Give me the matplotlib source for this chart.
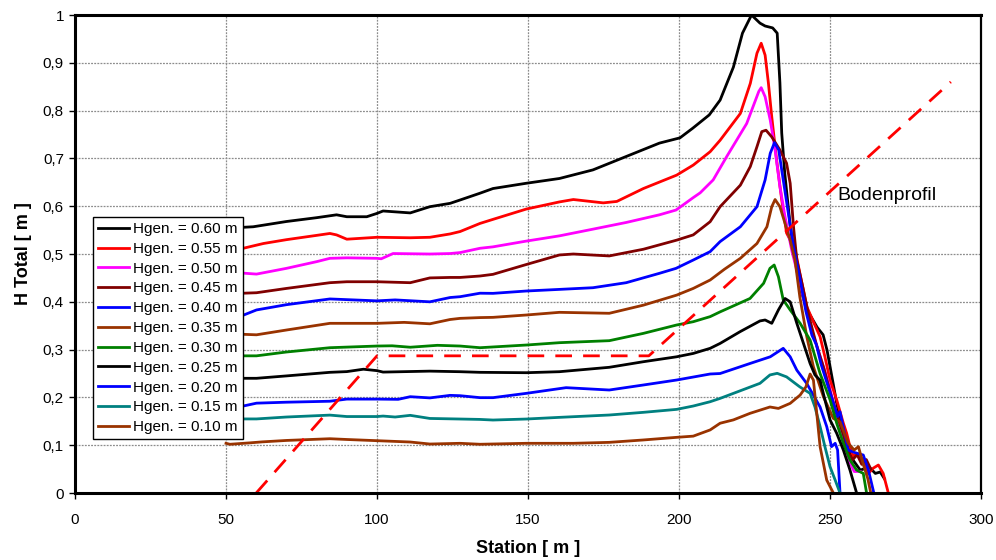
import matplotlib
matplotlib.use("Agg")
import matplotlib.pyplot as plt

plt.rcParams['font.family'] = ['Liberation Sans', 'DejaVu Sans']

# Hgen. = 0.60 m
st_060 = [50, 59, 70, 80, 86.6, 90, 96.6, 100, 102, 111, 117.5, 124.2, 127.5, 134, 138.4, 149.4, 160.4, 171.5,
          182.5, 193.5, 200.3, 204.5, 210, 213.6, 218, 221, 224, 226.8, 228.5, 231, 232.5, 233.4, 234, 235,
          236.8, 238.4, 240, 242.4, 245.7, 247.7, 249, 251, 253, 255.6, 257.6, 260, 263, 265, 266.6, 268]
h_060 = [0.554, 0.557, 0.568, 0.576, 0.582, 0.578, 0.578, 0.585, 0.590, 0.586, 0.599, 0.606, 0.613, 0.627, 0.637,
         0.648, 0.658, 0.676, 0.704, 0.732, 0.743, 0.763, 0.791, 0.822, 0.891, 0.962, 1.0, 0.983, 0.977, 0.973,
         0.962, 0.858, 0.753, 0.669, 0.56, 0.49, 0.431, 0.383, 0.347, 0.331, 0.299, 0.230, 0.159, 0.111, 0.069,
         0.048, 0.054, 0.041, 0.044, 0.03]

# Hgen. = 0.55 m
st_055 = [50, 55.7, 62.4, 70, 80, 84.4, 86.6, 90, 100, 111, 117.5, 124.2, 127.5, 134.1, 138.4, 149.4, 160.4,
          165, 174.9, 179.4, 188.2, 199.2, 204.7, 210.3, 213.6, 220.3, 223.6, 225.8, 227.2, 228.5, 229.6, 230.7,
          232.3, 234, 235.6, 238.4, 240, 242.3, 244.5, 246.7, 248.3, 250, 252.2, 254.4, 255.5, 256.6, 257.7,
          258.8, 261, 262.7, 264.3, 266, 267.6, 269.3]
h_055 = [0.505, 0.512, 0.522, 0.530, 0.539, 0.543, 0.540, 0.531, 0.535, 0.534, 0.535, 0.542, 0.547, 0.564, 0.5725,
         0.594, 0.609, 0.614, 0.607, 0.610, 0.637, 0.665, 0.686, 0.714, 0.738, 0.794, 0.857, 0.92, 0.941, 0.916,
         0.857, 0.787, 0.697, 0.613, 0.544, 0.51, 0.46, 0.39, 0.358, 0.327, 0.285, 0.236, 0.195, 0.146, 0.125,
         0.097, 0.076, 0.083, 0.069, 0.041, 0.052, 0.0586, 0.041, 0.0]

# Hgen. = 0.50 m
st_050 = [50, 55.7, 60.1, 70, 80, 84.4, 90, 100, 101.4, 105.3, 117.5, 124.2, 127.5, 134.1, 138.4, 149.4, 160.4,
          171.5, 182.5, 193.5, 199, 204.7, 207, 211.3, 215.8, 222.4, 226.4, 227.2, 228.5, 230.2, 231.8, 233.4,
          235.1, 237.3, 240, 243, 246, 249, 252, 254.5, 256.5, 258, 260]
h_050 = [0.460, 0.460, 0.458, 0.470, 0.484, 0.491, 0.492, 0.491, 0.490, 0.501, 0.500, 0.501, 0.503, 0.512, 0.515,
         0.527, 0.538, 0.552, 0.566, 0.582, 0.592, 0.618, 0.628, 0.655, 0.704, 0.773, 0.840, 0.848, 0.829, 0.780,
         0.718, 0.641, 0.578, 0.508, 0.44, 0.36, 0.30, 0.24, 0.17, 0.11, 0.065, 0.045, 0.045]

# Hgen. = 0.45 m
st_045 = [50, 55.7, 60.1, 70, 84.4, 90, 100, 111, 117.5, 124.2, 127.5, 134.1, 138.4, 149.4, 160.4, 165, 176.9,
          188.2, 199.2, 204.7, 210.3, 213.6, 220.3, 223.6, 225.8, 227.4, 228.8, 230.7, 233.4, 235.6, 236.8, 237.9,
          239, 241, 243, 245.5, 248, 250.5, 252.5, 254.5, 256, 257.5, 259, 260.5, 262, 263.5]
h_045 = [0.419, 0.418, 0.419, 0.428, 0.440, 0.442, 0.442, 0.440, 0.450, 0.451, 0.451, 0.454, 0.4575, 0.478, 0.498,
         0.500, 0.496, 0.510, 0.529, 0.540, 0.5676, 0.599, 0.644, 0.683, 0.7245, 0.756, 0.759, 0.745, 0.7176,
         0.69, 0.648, 0.557, 0.487, 0.43, 0.37, 0.31, 0.26, 0.20, 0.16, 0.12, 0.085, 0.07, 0.08, 0.06, 0.07, 0.05]

# Hgen. = 0.40 m
st_040 = [50, 55.7, 60.1, 70, 84.4, 100, 106, 117.5, 124.2, 127.5, 134.1, 138.4, 149.4, 160.4, 171.5, 182.5,
          193.5, 199, 204.7, 210.3, 213.6, 220.3, 225.8, 228.5, 230.2, 231.6, 233, 234.5, 236.2, 237.9, 240, 242,
          244, 245.5, 247, 249, 251, 252.5, 253.3, 254.3, 256, 258, 261, 262.7, 264.5]
h_040 = [0.372, 0.372, 0.383, 0.394, 0.406, 0.402, 0.404, 0.400, 0.409, 0.4107, 0.418, 0.4177, 0.4226, 0.426,
         0.4295, 0.440, 0.4596, 0.470, 0.4874, 0.505, 0.526, 0.557, 0.599, 0.655, 0.7107, 0.733, 0.7176, 0.655,
         0.585, 0.515, 0.45, 0.38, 0.33, 0.31, 0.27, 0.23, 0.19, 0.16, 0.17, 0.14, 0.09, 0.085, 0.0795, 0.048, 0.0]

# Hgen. = 0.35 m
st_035 = [50, 55.7, 60.1, 70, 84.4, 100, 109, 117.5, 124.2, 127.5, 134.1, 138.4, 149.4, 160.4, 176.9, 188.2,
          199.2, 204.7, 210.3, 215, 220.3, 225.8, 229.1, 230.7, 231.8, 233.4, 235.1, 236.8, 238.4, 240, 242.3,
          244.5, 247.8, 251.1, 253.3, 256, 258, 259.4, 261, 262.5, 263.5]
h_035 = [0.334, 0.332, 0.331, 0.341, 0.355, 0.355, 0.357, 0.354, 0.363, 0.3654, 0.367, 0.3675, 0.3724, 0.378,
         0.376, 0.393, 0.414, 0.428, 0.4456, 0.468, 0.491, 0.522, 0.557, 0.599, 0.614, 0.599, 0.564, 0.529, 0.487,
         0.41, 0.327, 0.264, 0.2015, 0.156, 0.149, 0.104, 0.09, 0.097, 0.06, 0.03, 0.0]

# Hgen. = 0.30 m
st_030 = [50, 55.7, 60.1, 70, 84.4, 100, 105, 111, 120, 127.5, 134.1, 149.4, 160.4, 176.9, 188.2, 199.2, 204.7,
          210.3, 213.6, 223.5, 228, 230.1, 231.5, 232.9, 234.5, 236.8, 240.1, 243.4, 246.7, 250, 252.2, 254.4,
          256.6, 258.8, 261, 262.1]
h_030 = [0.289, 0.287, 0.287, 0.295, 0.304, 0.3075, 0.308, 0.305, 0.309, 0.3075, 0.304, 0.3096, 0.3145, 0.3187,
         0.334, 0.3515, 0.3584, 0.369, 0.379, 0.407, 0.4387, 0.470, 0.477, 0.4525, 0.404, 0.383, 0.355, 0.32,
         0.25, 0.195, 0.146, 0.104, 0.069, 0.048, 0.041, 0.0]

# Hgen. = 0.25 m
st_025 = [50, 55.7, 60.1, 70, 84.4, 90, 95.5, 100, 102, 117.5, 127.5, 134.1, 149.4, 160.4, 176.9, 188.2, 199.2,
          204.7, 210.3, 213.6, 220.2, 226.8, 228.5, 230.7, 232.9, 235.1, 236.8, 239, 241.2, 243.4, 245, 246.7,
          248.3, 250, 252.2, 254.4, 256.6, 258.8]
h_025 = [0.240, 0.240, 0.240, 0.245, 0.2525, 0.254, 0.259, 0.256, 0.253, 0.255, 0.2538, 0.2525, 0.2517, 0.2538,
         0.263, 0.2747, 0.285, 0.292, 0.3027, 0.313, 0.3375, 0.36, 0.362, 0.355, 0.383, 0.407, 0.400, 0.355,
         0.313, 0.271, 0.247, 0.236, 0.195, 0.153, 0.125, 0.09, 0.048, 0.0]

# Hgen. = 0.20 m
st_020 = [50, 55.7, 60.1, 70, 84.4, 90, 100, 107, 111, 117.5, 124.2, 127.5, 134.1, 138.4, 149.4, 162.6, 176.9,
          188.2, 199.2, 210.3, 213.6, 223.5, 230.2, 232.8, 234.5, 236.8, 239, 242.3, 246.7, 248.9, 250.5, 251.7,
          252.5, 253.3]
h_020 = [0.181, 0.182, 0.188, 0.190, 0.192, 0.1965, 0.1965, 0.196, 0.2015, 0.199, 0.2043, 0.2036, 0.1995, 0.1995,
         0.2085, 0.2204, 0.2155, 0.226, 0.2364, 0.249, 0.250, 0.271, 0.285, 0.2957, 0.3027, 0.285, 0.257, 0.229,
         0.18, 0.139, 0.097, 0.104, 0.09, 0.0]

# Hgen. = 0.15 m
st_015 = [50, 55.7, 60.1, 70, 84.4, 90, 100, 102, 106, 111, 117.5, 127.5, 134, 138.4, 149.4, 160.4, 176.9,
          188.2, 199.2, 204.7, 210.3, 213.6, 226.8, 230.1, 232.5, 235.6, 240, 243.4, 245, 246.7, 248.3, 250,
          251.7, 253.3]
h_015 = [0.153, 0.155, 0.155, 0.159, 0.163, 0.160, 0.160, 0.161, 0.159, 0.1625, 0.156, 0.1548, 0.154, 0.1527,
         0.1548, 0.1583, 0.1632, 0.1688, 0.175, 0.182, 0.191, 0.198, 0.2295, 0.247, 0.2504, 0.243, 0.222, 0.2085,
         0.18, 0.139, 0.097, 0.055, 0.027, 0.0]

# Hgen. = 0.10 m
st_010 = [50, 51.3, 58, 62, 70, 84.4, 90, 100, 111, 117.5, 127.5, 134.1, 149.4, 165, 176.9, 188.2, 199.2, 204.7,
          210.3, 213.6, 218, 223.5, 230.1, 232.9, 236.8, 240.1, 242, 243.4, 244.5, 245.6, 246.7, 248.9, 251.1]
h_010 = [0.104, 0.102, 0.105, 0.107, 0.110, 0.1136, 0.112, 0.1095, 0.1067, 0.1025, 0.104, 0.102, 0.104, 0.104,
         0.106, 0.111, 0.1165, 0.119, 0.132, 0.146, 0.153, 0.1667, 0.18, 0.177, 0.1876, 0.205, 0.222, 0.249,
         0.236, 0.1667, 0.097, 0.027, 0.0]

# Bodenprofil
boden_x = [60, 100, 190, 290]
boden_y = [0, 0.287, 0.287, 0.86]

labels = ["Hgen. = 0.60 m", "Hgen. = 0.55 m", "Hgen. = 0.50 m", "Hgen. = 0.45 m", "Hgen. = 0.40 m",
          "Hgen. = 0.35 m", "Hgen. = 0.30 m", "Hgen. = 0.25 m", "Hgen. = 0.20 m", "Hgen. = 0.15 m",
          "Hgen. = 0.10 m"]
colors = ["#000000", "#FF0000", "#FF00FF", "#800000", "#0000FF", "#993300", "#008000", "#000000", "#0000FF",
          "#008080", "#993300"]
stations = [st_060, st_055, st_050, st_045, st_040, st_035, st_030, st_025, st_020, st_015, st_010]
heights = [h_060, h_055, h_050, h_045, h_040, h_035, h_030, h_025, h_020, h_015, h_010]

x_ticks = [0, 50, 100, 150, 200, 250, 300]
y_ticks = [0, 0.1, 0.2, 0.3, 0.4, 0.5, 0.6, 0.7, 0.8, 0.9, 1.0]
y_tick_labels = ["0", "0,1", "0,2", "0,3", "0,4", "0,5", "0,6", "0,7", "0,8", "0,9", "1"]

fig = plt.figure(figsize=(9.96, 5.6), dpi=100)
ax = fig.add_axes([0.0753, 0.1196, 0.9097, 0.8536])

for st, h, c, lab in zip(stations, heights, colors, labels):
    ax.plot(st, h, color=c, lw=2, label=lab, solid_joinstyle='round')

ax.plot(boden_x, boden_y, color="#FF0000", lw=2, linestyle=(0, (6, 4)))
ax.text(252.5, 0.623, "Bodenprofil", fontsize=14, va='center', ha='left')

ax.set_xlim(0, 300)
ax.set_ylim(0, 1)
ax.set_xticks(x_ticks)
ax.set_yticks(y_ticks)
ax.set_yticklabels(y_tick_labels)
ax.tick_params(labelsize=11, direction='out', length=4.5, width=1)
ax.tick_params(axis='x', pad=10)
ax.tick_params(axis='y', pad=3.5)
ax.grid(True, color='#8c8c8c', lw=0.9, linestyle=(0, (1.5, 1)))
ax.set_axisbelow(True)
for side in ['left', 'bottom', 'top']:
    ax.spines[side].set_linewidth(2.2)
ax.spines['right'].set_linewidth(1.6)

ax.set_xlabel("Station [ m ]", fontsize=13, fontweight='bold', labelpad=9)
ax.set_ylabel("H Total [ m ]", fontsize=13, fontweight='bold', labelpad=8)

leg = ax.legend(loc='upper left', bbox_to_anchor=(0.0195, 0.578), fontsize=11, frameon=True, fancybox=False,
                edgecolor='black', framealpha=1, borderaxespad=0, handlelength=2.0, labelspacing=0.38,
                borderpad=0.35, handletextpad=0.3)
leg.get_frame().set_linewidth(1)

fig.savefig("out.png", dpi=100)
